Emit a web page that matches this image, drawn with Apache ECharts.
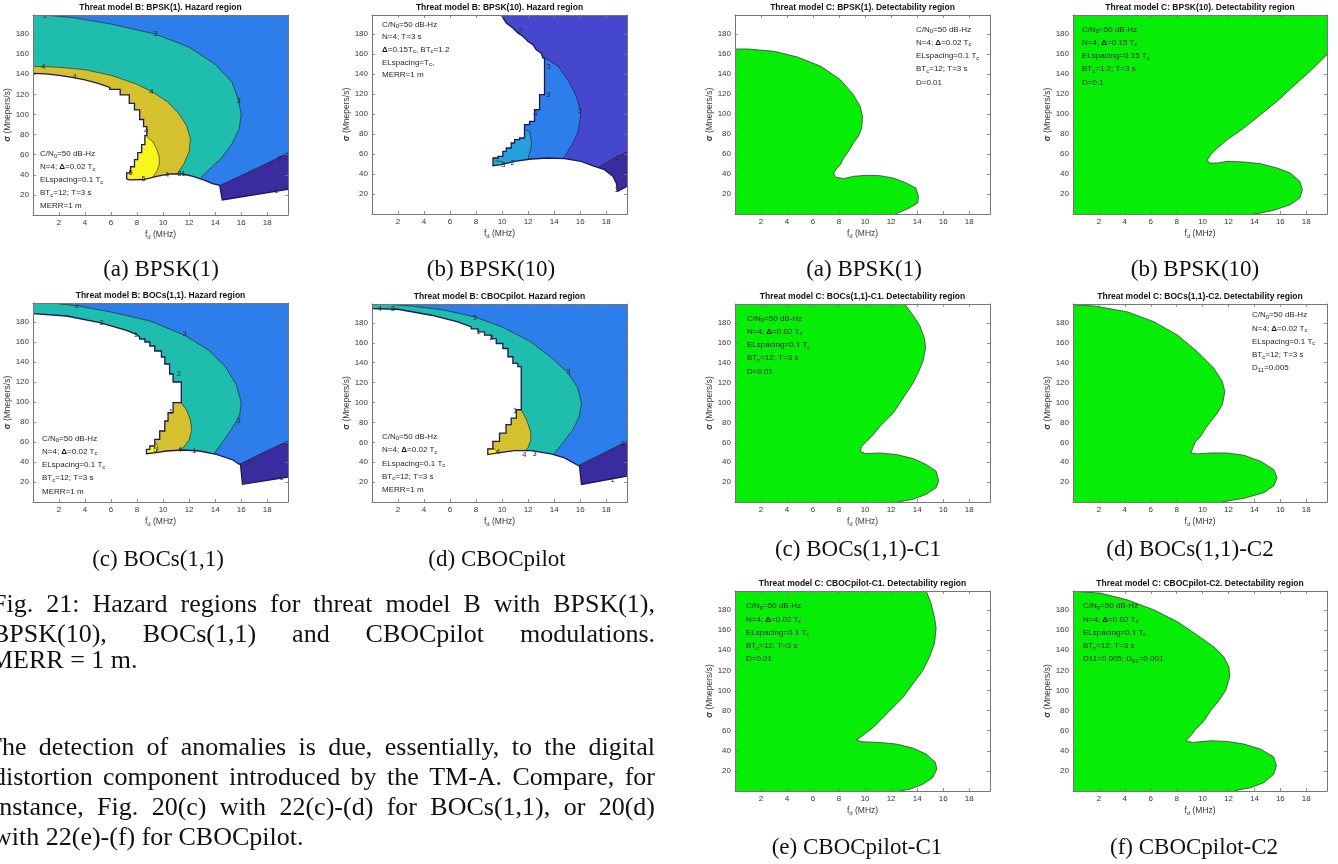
<!DOCTYPE html>
<html>
<head>
<meta charset="utf-8">
<script src="https://cdn.jsdelivr.net/npm/echarts@6/dist/echarts.min.js"></script>
<style>
  html, body { margin: 0; padding: 0; background: #fff; }
  #fig { width: 1338px; height: 864px; }
</style>
</head>
<body>
<div id="fig"></div>
<script>
// ---------- shared axes ----------
const X_RANGE = [0, 19.6];           // f_d (MHz)
const Y_RANGE = [0, 199];            // sigma (Mnepers/s)
const X_TICK_LABELS = [2, 4, 6, 8, 10, 12, 14, 16, 18];
const Y_TICK_LABELS = [20, 40, 60, 80, 100, 120, 140, 160, 180];

// ---------- Threat model B, BPSK(1): hazard levels ----------
const bpsk1HazardEdge = [[0,141],[1,140.5],[2,139],[3,137],[4,134.5],[5,131],[5.9,127],[5.9,125],[6.7,125],[6.7,119.5],[7.4,119.5],[7.4,111],[7.8,111],[7.8,104.5],[8.2,104.5],[8.2,95],[8.5,95],[8.5,88],[8.75,88],[8.75,79],[8.6,79],[8.6,70],[8.35,70],[8.35,62],[8.05,62],[8.05,55],[7.8,55],[7.8,48],[7.5,48],[7.5,42],[7.2,42],[7.2,36],[7.4,35],[8.5,35.3],[9.5,38.5],[10.5,41],[11.5,40.8],[12.3,38.5],[13.1,35],[13.8,31.2],[14.35,29.5],[14.55,15],[19.6,25.5]];
const bpsk1Contour2 = [[19.6,62],[18,51.5],[16.3,41],[14.4,29.6]];
const bpsk1Contour3 = [[0.8,199],[3,196.5],[6,190],[9.4,180],[12,167],[14,150],[15.3,132],[15.8,114],[16.0,100],[15.85,86],[15.3,71],[14.5,57],[13.6,46],[12.9,37]];
const bpsk1Contour4 = [[0,148],[2,147],[4,144.5],[6,139],[8,130],[9.1,123],[10.3,113],[11.2,101],[11.8,89],[12.1,76],[12.0,63],[11.6,51],[11.1,41]];
const bpsk1Contour5 = [[8.75,78],[9.2,73],[9.5,66],[9.7,58],[9.7,50],[9.5,43],[9.2,37.5]];
const bpsk1ContourLabels = [[0.9,198.5,'3'],[9.4,180,'3'],[15.8,113.5,'3'],[0.8,147.7,'4'],[9.1,122.8,'4'],[3.2,137,'4'],[18.95,55.4,'2'],[18.7,23.9,'1'],[8.5,35.8,'5'],[10.3,40.3,'4'],[11.4,40.5,'31'],[8.7,84,'4'],[7.5,41.5,'5']];

// ---------- Threat model B, BPSK(10): hazard levels ----------
const bpsk10HazardEdge = [[9.93,199],[10.32,191],[10.83,186],[11.21,181],[11.6,177.7],[11.98,172.7],[12.37,169.3],[12.62,164.3],[13.0,161],[13.14,156],[13.26,156],[13.26,119.3],[12.88,119.3],[12.88,104.3],[12.49,104.3],[12.49,92.7],[12.11,92.7],[12.11,89.3],[11.72,89.3],[11.72,76],[11.34,76],[11.34,74.3],[10.96,74.3],[10.96,71],[10.7,71],[10.7,66],[10.32,66],[10.32,62.7],[10.06,62.7],[10.06,57.7],[9.68,57.7],[9.68,56],[9.3,56],[9.3,48.3],[9.93,49.3],[10.96,52.7],[12.24,55],[13.52,56],[14.8,55.3],[16.08,52.7],[17.1,47.7],[17.87,44.3],[18.51,37.7],[18.77,31],[18.9,22.7],[19.6,27.7]];
const bpsk10Contour2 = [[19.6,62],[18.5,55],[17.4,46.5]];
const bpsk10Contour3 = [[13.26,156],[13.5,154.3],[14.3,147.7],[15.05,134.3],[15.7,117.7],[16.03,102.7],[16.0,94],[15.8,81],[15.45,71],[15.05,62.7],[14.67,55]];
const bpsk10Contour4 = [[11.72,84],[12.11,82.7],[12.24,74.3],[12.24,67.7],[12.11,61],[11.98,55]];
const bpsk10Contour5 = [[9.5,53],[10.0,52.5],[10.2,50.5],[10.0,49.5]];
const bpsk10ContourLabels = [[11.4,183,'2'],[13.55,147,'3'],[13.55,119,'3'],[15.95,103,'3'],[12.55,100,'4'],[18.9,56,'2'],[18.8,24,'1'],[10.8,51,'2'],[10.1,49,'3']];

// ---------- Threat model B, BOCs(1,1): hazard levels ----------
const bocHazardEdge = [[0,188.3],[2.58,186],[5.14,179.3],[7.19,171.7],[7.95,167.7],[8.2,165],[8.2,163],[8.6,163],[8.6,160],[8.98,160],[8.98,156],[9.36,156],[9.36,151],[9.87,151],[9.87,145],[10.13,145],[10.13,138],[10.5,138],[10.5,128],[10.77,128],[10.77,120],[11.4,120],[11.4,99.3],[10.77,99.3],[10.77,89.3],[10.38,89.3],[10.38,81],[10.13,81],[10.13,71],[9.74,71],[9.74,62.7],[9.36,62.7],[9.36,56],[8.98,56],[8.98,52.7],[8.72,52.7],[8.72,48.3],[9.49,49.3],[10.26,51],[11.53,52],[12.8,51],[14.09,47.7],[15.37,42],[15.8,38],[15.95,37.5],[16.1,17.7],[19.6,25]];
const bocContour2 = [[19.6,61],[17.8,50],[15.9,38]];
const bocContour3 = [[1.5,199],[3.5,196],[6,190],[9,181],[11.6,167],[13.5,152],[14.8,135],[15.6,118],[16.0,100],[15.9,88],[15.6,80],[15.0,68],[14.4,57],[13.9,48]];
const bocContour4 = [[11.4,99.3],[11.8,92],[12.1,82],[12.2,72],[12.0,62],[11.6,55],[11.2,52]];
const bocContour5 = [[9.36,60],[9.55,57],[9.6,53],[9.45,50]];
const bocContourLabels = [[3.35,196,'3'],[11.66,167.7,'3'],[15.8,81,'3'],[16.6,39.3,'2'],[19.1,24.3,'1'],[5.27,179.3,'2'],[7.9,167,'1'],[11.2,128,'2'],[10.6,90,'1'],[11.28,51.7,'4'],[12.4,51.5,'1'],[9.4,52,'5']];

// ---------- Threat model B, CBOCpilot: hazard levels ----------
const cbocHazardEdge = [[0,194.3],[2,193.7],[4.56,187.7],[6.6,181],[7.63,176],[7.63,174],[8.14,174],[8.14,171],[8.65,171],[8.65,167.7],[9.17,167.7],[9.17,164.3],[9.55,164.3],[9.55,159.3],[10.06,159.3],[10.06,154.3],[10.45,154.3],[10.45,146],[10.83,146],[10.83,139.3],[11.21,139.3],[11.21,136],[11.47,136],[11.47,92.7],[11.09,92.7],[11.09,84.3],[10.7,84.3],[10.7,77.7],[10.3,77.7],[10.3,69.3],[9.8,69.3],[9.8,61],[9.29,61],[9.29,53.3],[8.9,53.3],[8.9,47.7],[9.68,49.3],[10.96,51.7],[12.24,51.7],[13.77,48.3],[14.8,44.3],[15.7,37.7],[15.95,36],[16.1,17.7],[19.6,26]];
const cbocContour2 = [[19.6,61],[17.7,48.5],[15.85,36.5]];
const cbocContour3 = [[0.8,199],[3,197],[5.5,193],[7.9,186],[10,176],[12.2,161],[13.8,145],[15.05,130],[15.8,115],[16.1,99],[15.9,85],[15.4,72],[14.7,60],[14.0,48.5]];
const cbocContour4 = [[11.47,92.7],[11.9,82],[12.2,70],[12.2,62],[12.0,55],[11.8,51.7]];
const cbocContour5 = [[8.9,53.3],[9.4,53.3],[9.6,51],[9.7,49.3]];
const cbocContourLabels = [[0.6,194.3,'4'],[1.6,194.3,'3'],[7.9,185.3,'3'],[15.1,130.3,'3'],[19.3,58.3,'2'],[18.5,21.7,'1'],[11.7,47.7,'4'],[12.5,48.3,'3'],[8.2,171,'1'],[9.2,165,'2'],[11.0,92,'1'],[9.7,50,'4']];

// ---------- Threat model C: detectability region boundaries ----------
const detBpsk1Edge = [[0,165],[1,165],[3,162.7],[4.8,157],[6.6,147.7],[8.1,134.3],[9.1,119.3],[9.62,107.7],[9.8,97.7],[9.74,86],[9.49,77.7],[9.1,71],[8.73,62.7],[8.35,56],[8.1,49.3],[7.84,46],[7.59,41],[7.71,37],[8.35,35.3],[9.1,37.7],[10.1,38.7],[11.14,38.3],[12.16,36],[13.17,31],[13.9,26],[14.1,17.7],[14.05,11],[13.4,6],[12.66,1.7],[12.3,0]];
const detBpsk10Edge = [[19.6,159.3],[18.3,142.7],[17.0,127.7],[15.75,112.7],[14.47,99.3],[13.19,86],[11.91,74.3],[11.14,66],[10.63,59.3],[10.37,54.3],[10.5,51],[11.14,51],[11.91,52.7],[13.19,52],[14.47,50.3],[15.75,46],[16.77,41],[17.5,32.7],[17.7,24.3],[17.5,16],[16.77,9.3],[15.5,3.7],[14.2,0.3],[14.0,0]];
const detBocC1Edge = [[13.04,199],[13.68,187.7],[14.19,177.7],[14.57,164.3],[14.65,154.3],[14.44,141],[14.06,129.3],[13.68,119.3],[13.17,109.3],[12.66,99.3],[12.16,89.3],[11.65,82.7],[11.14,76],[10.63,67.7],[10.13,61],[9.75,56],[9.62,51],[10.0,48.7],[11.14,49.3],[12.41,47.7],[13.68,43.7],[14.7,37.7],[15.46,31],[15.66,21],[15.46,14.3],[14.7,7.7],[13.68,2.7],[12.66,0.3],[12.5,0]];
const detBocC2Edge = [[0,198.3],[1.67,197],[4.23,191],[6.28,181],[8.07,167.7],[9.6,151],[10.88,134.3],[11.52,121],[11.72,111],[11.52,97.7],[11.14,89.3],[10.63,81],[10.24,74.3],[9.86,66],[9.47,61],[9.3,56],[9.09,49.3],[9.6,48.3],[10.63,49.3],[11.91,49.3],[13.19,47],[14.47,41],[15.49,32.7],[15.75,24.3],[15.49,16],[14.72,9.3],[13.19,3.7],[11.91,1],[11.5,0]];
const detCbocC1Edge = [[14.7,199],[15.07,186.7],[15.33,173.3],[15.46,161.7],[15.33,146.7],[14.95,133.3],[14.44,120],[13.68,106.7],[12.92,93.3],[12.16,83.3],[11.4,73.3],[10.63,63.3],[10.13,58.3],[9.62,53.3],[9.31,51],[9.75,49],[11.14,48.3],[12.41,46.7],[13.68,42.7],[14.7,36.7],[15.41,28.3],[15.51,21.7],[15.2,13.3],[14.44,6.7],[13.43,1.7],[12.66,0]];
const detCbocC2Edge = [[0,199],[2.18,196.7],[4.23,190],[6.28,180],[8.07,168.3],[9.6,155],[10.88,143.3],[11.65,133.3],[12.04,123.3],[12.09,113.3],[11.78,100],[11.27,90],[10.63,80],[10.12,70],[9.48,61.7],[9.09,55],[8.71,50],[9.22,48.3],[10.63,50],[11.91,49.3],[13.19,46.7],[14.47,41.7],[15.49,34],[15.7,25],[15.49,16.7],[14.72,8.3],[13.7,3.3],[12.67,0.7],[12.5,0]];

// ---------- in-plot parameter notes ----------
const notesHazard = ['C/N{s|0}=50 dB-Hz', 'N=4; {b|Δ}=0.02 T{s|c}', 'ELspacing=0.1 T{s|c}', 'BT{s|c}=12; T=3 s', 'MERR=1 m'];
const notesHazardBpsk10 = ['C/N{s|0}=50 dB-Hz', 'N=4; T=3 s', '{b|Δ}=0.15T{s|c}, BT{s|c}=1.2', 'ELspacing=T{s|c},', 'MERR=1 m'];
const notesDetBpsk1 = ['C/N{s|0}=50 dB-Hz', 'N=4; {b|Δ}=0.02 T{s|c}', 'ELspacing=0.1 T{s|c}', 'BT{s|c}=12; T=3 s', 'D=0.01'];
const notesDetBpsk10 = ['C/N{s|0}=50 dB-Hz', 'N=4; {b|Δ}=0.15 T{s|c}', 'ELspacing=0.15 T{s|c}', 'BT{s|c}=1.2; T=3 s', 'D=0.1'];
const notesDetC1 = ['C/N{s|0}=50 dB-Hz', 'N=4; {b|Δ}=0.02 T{s|c}', 'ELspacing=0.1 T{s|c}', 'BT{s|c}=12; T=3 s', 'D=0.01'];
const notesDetBocC2 = ['C/N{s|0}=50 dB-Hz', 'N=4; {b|Δ}=0.02 T{s|c}', 'ELspacing=0.1 T{s|c}', 'BT{s|c}=12; T=3 s', 'D{s|11}=0.005'];
const notesDetCbocC2 = ['C/N{s|0}=50 dB-Hz', 'N=4; {b|Δ}=0.02 T{s|c}', 'ELspacing=0.1 T{s|c}', 'BT{s|c}=12; T=3 s', 'D11=0.005; D{s|61}=0.001'];

// ---------- page text ----------
const figCaptionLines = ['Fig. 21: Hazard regions for threat model B with BPSK(1),', 'BPSK(10), BOCs(1,1) and CBOCpilot modulations.', 'MERR = 1 m.'];
const bodyLines = ['The detection of anomalies is due, essentially, to the digital', 'distortion component introduced by the TM-A. Compare, for', 'instance, Fig. 20(c) with 22(c)-(d) for BOCs(1,1), or 20(d)', 'with 22(e)-(f) for CBOCpilot.'];

// ---------- colours (parula-like contour levels) ----------
const NAVY = '#3a2c9e', INDIGO = '#4548cf', BLUE = '#2d7eeb', LIGHTBLUE = '#27a0e0',
      TEAL = '#1fbdad', MUSTARD = '#d5c12e', YELLOW = '#f8f61b', GREEN = '#06ee06';
const SANS = '"Liberation Sans", Arial, Helvetica, sans-serif';
const SERIF = '"Liberation Serif", "Times New Roman", serif';

const panels = [
  { box: [33, 15, 255, 200], title: 'Threat model B: BPSK(1). Hazard region', caption: '(a) BPSK(1)', cap: [161, 270],
    notes: notesHazard, notesAt: [40, 154, 13], kind: 'hazard', edge: bpsk1HazardEdge,
    contours: [bpsk1Contour2, bpsk1Contour3, bpsk1Contour4, bpsk1Contour5], colors: [NAVY, BLUE, TEAL, MUSTARD, YELLOW], labels: bpsk1ContourLabels },
  { box: [372, 15, 255, 199], title: 'Threat model B: BPSK(10). Hazard region', caption: '(b) BPSK(10)', cap: [491, 270],
    notes: notesHazardBpsk10, notesAt: [382, 24.3, 12.7], kind: 'hazard', edge: bpsk10HazardEdge,
    contours: [bpsk10Contour2, bpsk10Contour3, bpsk10Contour4, bpsk10Contour5], colors: [NAVY, INDIGO, BLUE, LIGHTBLUE, TEAL], labels: bpsk10ContourLabels },
  { box: [735, 15, 255, 199], title: 'Threat model C: BPSK(1). Detectability region', caption: '(a) BPSK(1)', cap: [864, 270],
    notes: notesDetBpsk1, notesAt: [916, 29.3, 13.3], kind: 'detect', edge: detBpsk1Edge },
  { box: [1073, 15, 254, 199], title: 'Threat model C: BPSK(10). Detectability region', caption: '(b) BPSK(10)', cap: [1195, 270],
    notes: notesDetBpsk10, notesAt: [1082, 29.3, 13.3], kind: 'detect', edge: detBpsk10Edge },
  { box: [33, 303, 255, 199], title: 'Threat model B: BOCs(1,1). Hazard region', caption: '(c) BOCs(1,1)', cap: [158, 560],
    notes: notesHazard, notesAt: [42, 438.3, 13.3], kind: 'hazard', edge: bocHazardEdge,
    contours: [bocContour2, bocContour3, bocContour4, bocContour5], colors: [NAVY, BLUE, TEAL, MUSTARD, YELLOW], labels: bocContourLabels },
  { box: [372, 304, 255, 198], title: 'Threat model B: CBOCpilot. Hazard region', caption: '(d) CBOCpilot', cap: [497, 560],
    notes: notesHazard, notesAt: [382, 436.7, 13.3], kind: 'hazard', edge: cbocHazardEdge,
    contours: [cbocContour2, cbocContour3, cbocContour4, cbocContour5], colors: [NAVY, BLUE, TEAL, MUSTARD, YELLOW], labels: cbocContourLabels },
  { box: [735, 304, 255, 198], title: 'Threat model C: BOCs(1,1)-C1. Detectability region', caption: '(c) BOCs(1,1)-C1', cap: [858, 550],
    notes: notesDetC1, notesAt: [747, 318.3, 13.3], kind: 'detect', edge: detBocC1Edge },
  { box: [1073, 304, 254, 198], title: 'Threat model C: BOCs(1,1)-C2. Detectability region', caption: '(d) BOCs(1,1)-C2', cap: [1190, 550],
    notes: notesDetBocC2, notesAt: [1252, 315, 13.3], kind: 'detect', edge: detBocC2Edge },
  { box: [735, 591, 255, 200], title: 'Threat model C: CBOCpilot-C1. Detectability region', caption: '(e) CBOCpilot-C1', cap: [857, 848],
    notes: notesDetC1, notesAt: [746, 606, 13.3], kind: 'detect', edge: detCbocC1Edge },
  { box: [1073, 591, 254, 200], title: 'Threat model C: CBOCpilot-C2. Detectability region', caption: '(f) CBOCpilot-C2', cap: [1194, 848],
    notes: notesDetCbocC2, notesAt: [1083, 606, 13.3], kind: 'detect', edge: detCbocC2Edge }
];

// Region under/left of a boundary curve, closed through the lower-left corner
function closeBelow(curve) {
  const first = curve[0], last = curve[curve.length - 1];
  const head = first[0] >= X_RANGE[1] - 1e-6
    ? [[X_RANGE[0], Y_RANGE[0]], [X_RANGE[0], Y_RANGE[1]], [X_RANGE[1], Y_RANGE[1]]]
    : [[X_RANGE[0], Y_RANGE[0]], [X_RANGE[0], first[1]]];
  return head.concat(curve, [[last[0], Y_RANGE[0]]]);
}
const fullRect = () => [[X_RANGE[0], Y_RANGE[0]], [X_RANGE[0], Y_RANGE[1]], [X_RANGE[1], Y_RANGE[1]], [X_RANGE[1], Y_RANGE[0]]];

function shapeSeries(gi, pts, style, closed) {
  return {
    type: 'custom', xAxisIndex: gi * 2, yAxisIndex: gi * 2, silent: true, clip: true,
    data: pts,
    renderItem(params, api) {
      if (params.dataIndex !== 0) return null;
      const points = pts.map(p => api.coord(p));
      return closed
        ? { type: 'polygon', shape: { points }, style: { fill: style.fill, stroke: null, lineWidth: 0 } }
        : { type: 'polyline', shape: { points }, style: { fill: null, stroke: style.stroke, lineWidth: style.lineWidth } };
    }
  };
}
function labelSeries(gi, labels) {
  return {
    type: 'custom', xAxisIndex: gi * 2, yAxisIndex: gi * 2, silent: true, clip: true,
    data: labels.map(l => [l[0], l[1]]),
    renderItem(params, api) {
      const c = api.coord([api.value(0), api.value(1)]);
      return { type: 'text', x: c[0], y: c[1],
        style: { text: labels[params.dataIndex][2], fill: '#2a2a2a', fontSize: 7.5, fontFamily: SANS,
                 align: 'center', verticalAlign: 'middle', textAlign: 'center', textVerticalAlign: 'middle' } };
    }
  };
}

const AXIS_COLOR = '#767676';
const LABEL_COLOR = '#363636';
const subRich = {
  s: { fontSize: 6, fontFamily: SANS, color: LABEL_COLOR, padding: [5, 0, 0, 0] },
  b: { fontSize: 8.5, fontFamily: SANS, color: LABEL_COLOR, fontWeight: 'bold' },
  n: { fontSize: 8.5, fontFamily: SANS, color: LABEL_COLOR }
};

const grids = [], xAxes = [], yAxes = [], series = [], graphics = [];

panels.forEach((p, gi) => {
  const [L, T, W, H] = p.box;
  grids.push({ left: L, top: T, width: W, height: H, containLabel: false });
  const common = { type: 'value', gridIndex: gi, z: 10, splitLine: { show: false },
    axisLine: { show: true, onZero: false, lineStyle: { color: AXIS_COLOR, width: 1 } },
    axisTick: { show: true, inside: true, length: 3, lineStyle: { color: AXIS_COLOR, width: 0.8 } } };
  xAxes.push(Object.assign({}, common, {
    position: 'bottom', min: X_RANGE[0], max: X_RANGE[1], interval: 2,
    axisLabel: { show: true, margin: 4, fontSize: 8, fontFamily: SANS, color: LABEL_COLOR,
      formatter: v => (X_TICK_LABELS.includes(v) ? String(v) : '') },
    name: '{n|f}{s|d}{n| (MHz)}', nameLocation: 'middle', nameGap: 14,
    nameTextStyle: { rich: subRich }
  }));
  xAxes.push(Object.assign({}, common, {
    position: 'top', min: X_RANGE[0], max: X_RANGE[1], interval: 2, axisLabel: { show: false }
  }));
  yAxes.push(Object.assign({}, common, {
    position: 'left', min: Y_RANGE[0], max: Y_RANGE[1], interval: 20,
    axisLabel: { show: true, margin: 4, fontSize: 8, fontFamily: SANS, color: LABEL_COLOR,
      formatter: v => (Y_TICK_LABELS.includes(v) ? String(v) : '') },
    name: '{b|σ}{n| (Mnepers/s)}', nameLocation: 'middle', nameGap: 18, nameRotate: 90,
    nameTextStyle: { rich: subRich }
  }));
  yAxes.push(Object.assign({}, common, {
    position: 'right', min: Y_RANGE[0], max: Y_RANGE[1], interval: 20, axisLabel: { show: false }
  }));

  if (p.kind === 'hazard') {
    // filled contour levels, lowest first; the no-hazard area is painted last
    series.push(shapeSeries(gi, fullRect(), { fill: p.colors[0] }, true));
    p.contours.forEach((c, k) => series.push(shapeSeries(gi, closeBelow(c), { fill: p.colors[k + 1] }, true)));
    series.push(shapeSeries(gi, closeBelow(p.edge), { fill: '#ffffff' }, true));
    p.contours.forEach(c => series.push(shapeSeries(gi, c, { stroke: '#1b1b1b', lineWidth: 0.6 }, false)));
    series.push(shapeSeries(gi, p.edge, { stroke: '#1d1850', lineWidth: 1.3 }, false));
    series.push(labelSeries(gi, p.labels));
  } else {
    series.push(shapeSeries(gi, closeBelow(p.edge), { fill: GREEN }, true));
    series.push(shapeSeries(gi, p.edge, { stroke: '#3c3c3c', lineWidth: 0.8 }, false));
  }

  // plot title
  graphics.push({ type: 'text', x: L + W / 2, y: T - 7, silent: true, z: 20,
    style: { text: p.title, fill: '#111', fontSize: 8.5, fontWeight: 'bold', fontFamily: SANS,
             align: 'center', verticalAlign: 'middle', textAlign: 'center', textVerticalAlign: 'middle' } });
  // parameter notes
  const [nx, ny, step] = p.notesAt;
  p.notes.forEach((line, i) => {
    graphics.push({ type: 'text', x: nx, y: ny + i * step, silent: true, z: 20,
      style: { text: line, fill: '#262626', fontSize: 8, fontFamily: SANS,
               align: 'left', verticalAlign: 'middle', textAlign: 'left', textVerticalAlign: 'middle',
               rich: {
                 s: { fontSize: 6, fontFamily: SANS, fill: '#262626', padding: [4, 0, 0, 0] },
                 b: { fontSize: 8, fontFamily: SANS, fill: '#111', fontWeight: 'bold' }
               } } });
  });
  // sub-figure caption
  graphics.push({ type: 'text', x: p.cap[0], y: p.cap[1], silent: true, z: 20,
    style: { text: p.caption, fill: '#111', font: '23px ' + SERIF,
             align: 'center', verticalAlign: 'middle', textAlign: 'center', textVerticalAlign: 'middle' } });
});

// ---------- justified page text ----------
const measureCtx = document.createElement('canvas').getContext('2d');
const BODY_FONT = '26px ' + SERIF;
function textLine(text, x0, x1, y, justify) {
  measureCtx.font = BODY_FONT;
  const words = text.split(' ');
  const widths = words.map(w => measureCtx.measureText(w).width);
  const total = widths.reduce((a, b) => a + b, 0);
  const gap = justify && words.length > 1 ? (x1 - x0 - total) / (words.length - 1) : measureCtx.measureText(' ').width;
  let x = x0;
  words.forEach((w, i) => {
    graphics.push({ type: 'text', x, y, silent: true, z: 20,
      style: { text: w, fill: '#111', font: BODY_FONT,
               align: 'left', verticalAlign: 'middle', textAlign: 'left', textVerticalAlign: 'middle' } });
    x += widths[i] + gap;
  });
}
const RIGHT_EDGE = 655;
textLine(figCaptionLines[0], -8, RIGHT_EDGE, 605, true);
textLine(figCaptionLines[1], -8, RIGHT_EDGE, 635, true);
textLine(figCaptionLines[2], -10, RIGHT_EDGE, 661, false);
textLine(bodyLines[0], -14, RIGHT_EDGE, 748, true);
textLine(bodyLines[1], -7, RIGHT_EDGE, 778, true);
textLine(bodyLines[2], -8, RIGHT_EDGE, 808, true);
textLine(bodyLines[3], -7, RIGHT_EDGE, 838, false);

const chart = echarts.init(document.getElementById('fig'), null, { renderer: 'canvas' });
chart.setOption({
  backgroundColor: '#ffffff',
  animation: false,
  grid: grids,
  xAxis: xAxes,
  yAxis: yAxes,
  series: series,
  graphic: { elements: graphics }
});
</script>
</body>
</html>
